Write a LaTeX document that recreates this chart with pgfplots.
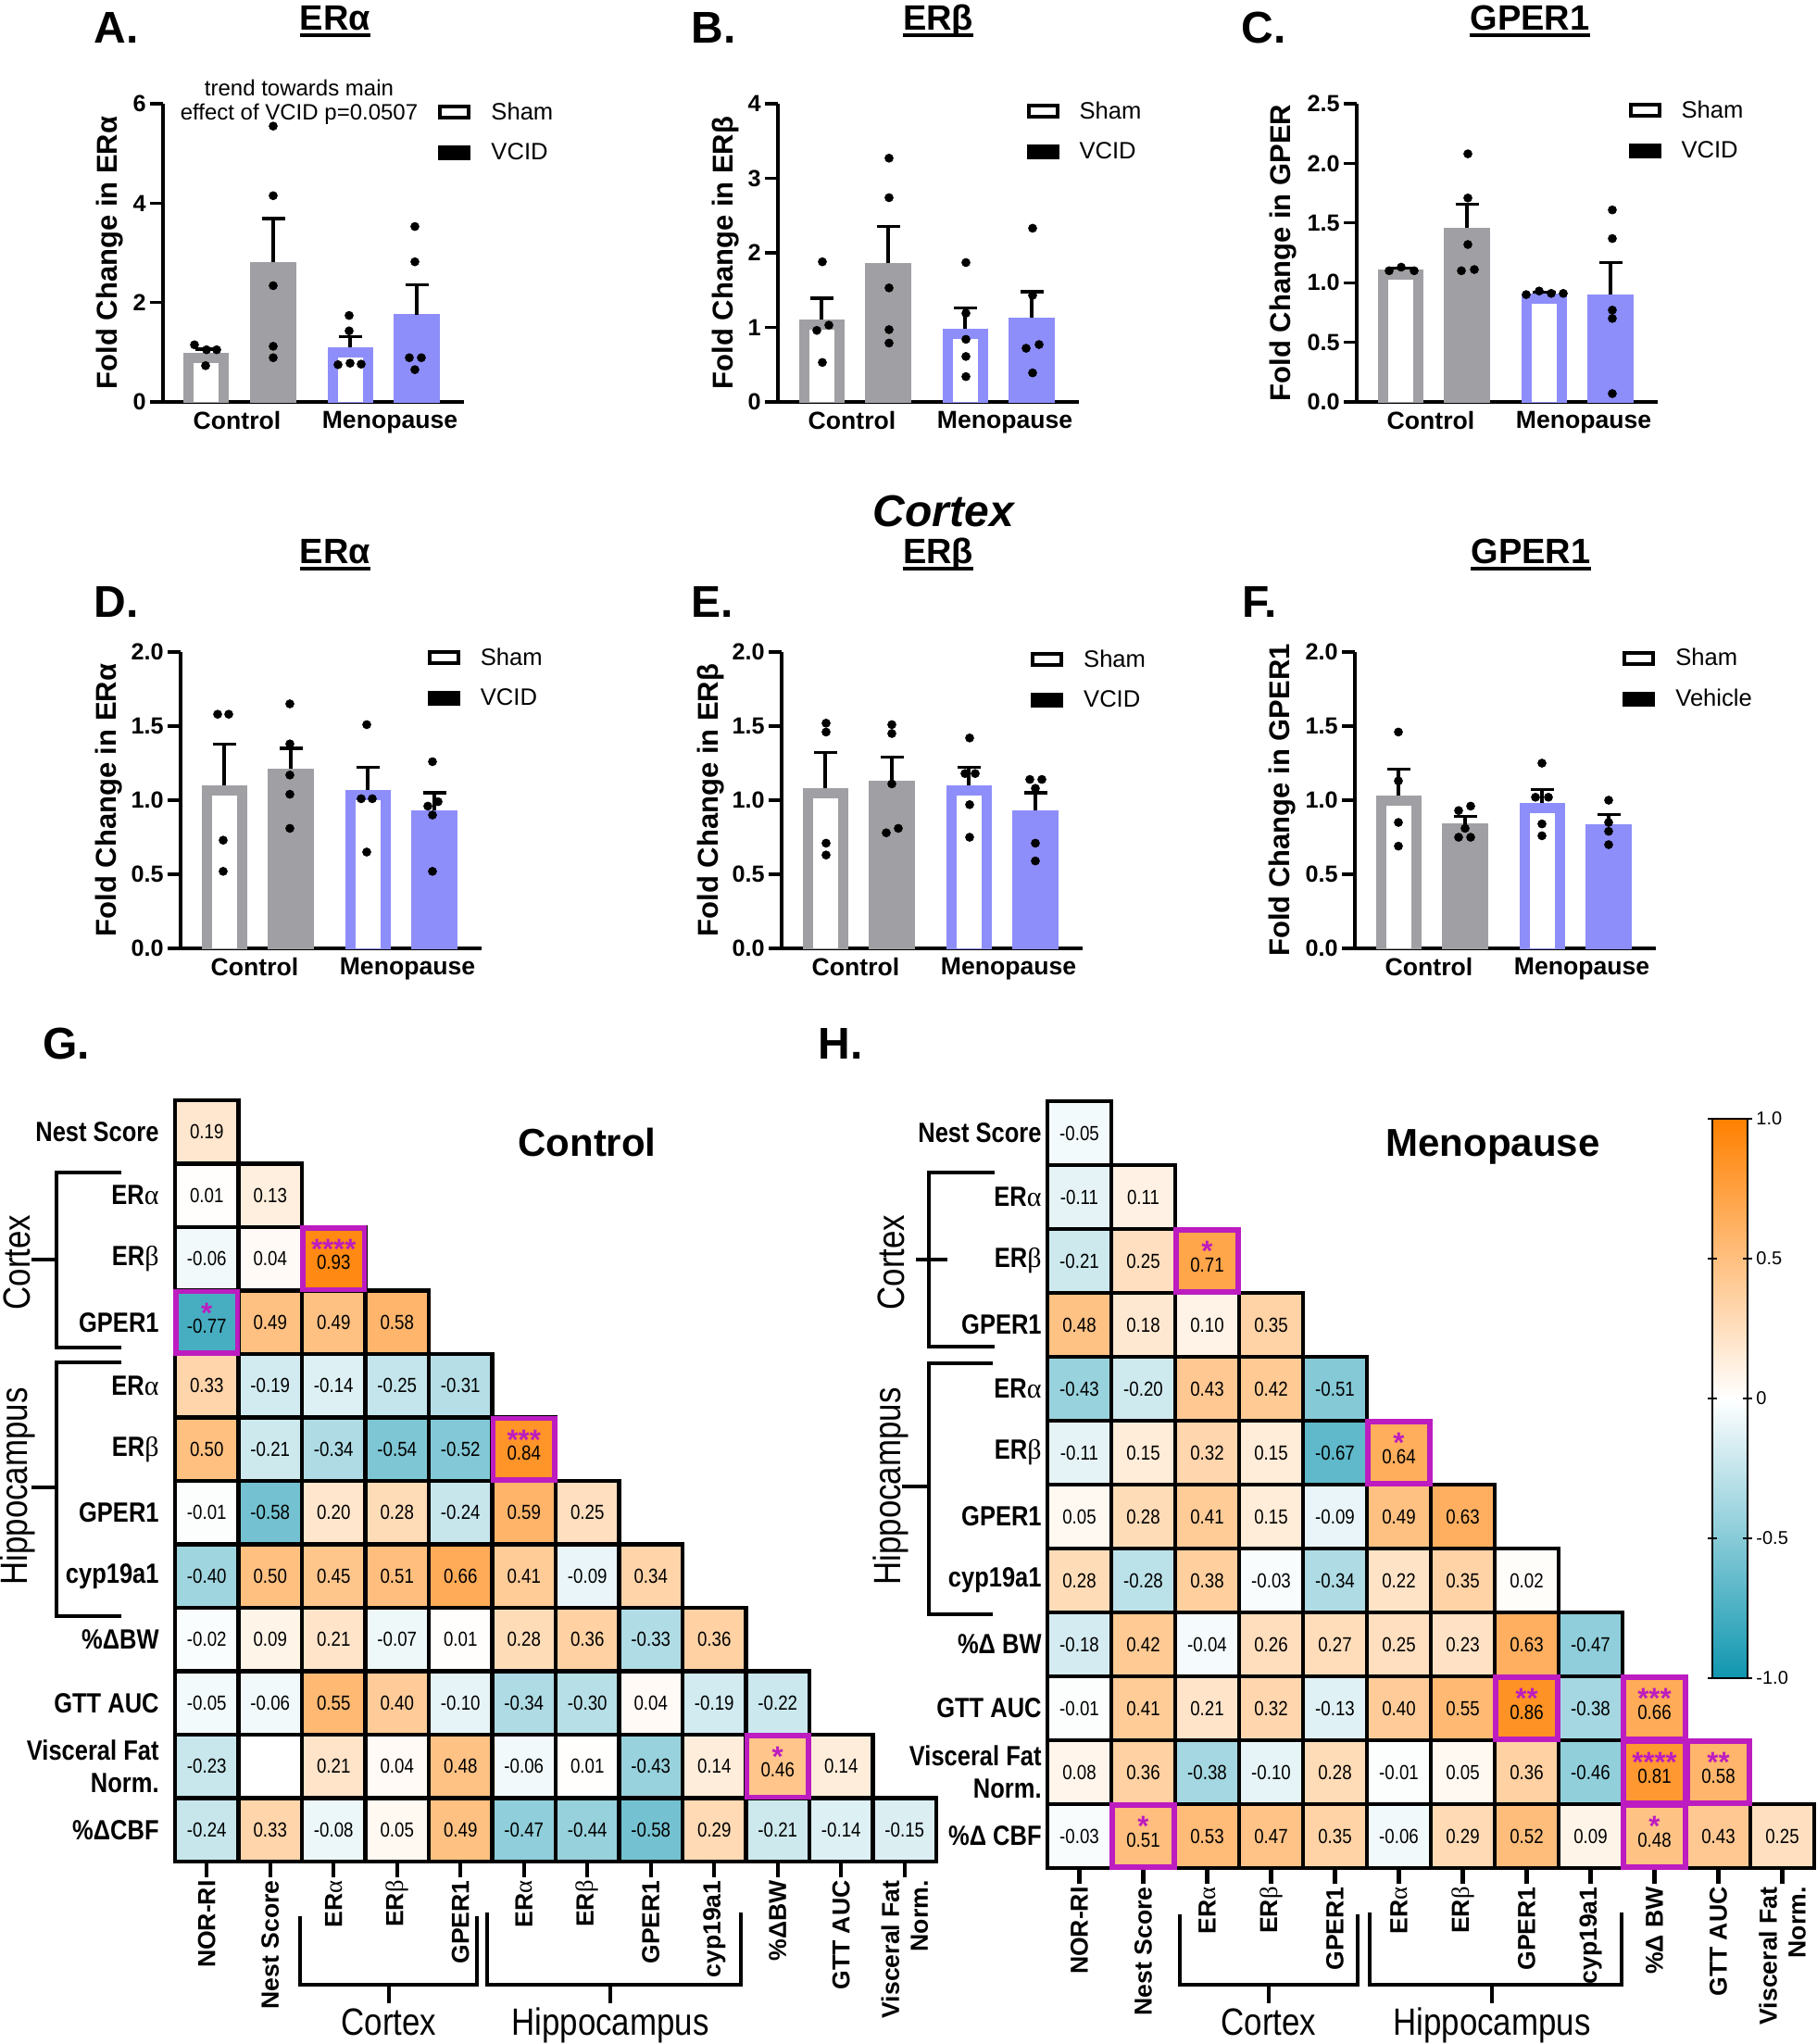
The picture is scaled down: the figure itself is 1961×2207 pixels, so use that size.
\documentclass[border=0pt]{standalone}
\usepackage{fontspec}
\setmainfont{Liberation Sans}
\newfontfamily\narrow[FakeStretch=0.85]{Liberation Sans}
\newfontfamily\greekfont{Liberation Serif}
\usepackage{pgfplots}
\usepackage{pgfplotstable}
\pgfplotsset{compat=1.18}

\definecolor{barGray}{RGB}{160,160,164}
\definecolor{barBlue}{RGB}{142,142,250}
\definecolor{sigMag}{RGB}{188,28,192}

\newcommand{\fs}[2]{\fontsize{#1}{#2}\selectfont}
\newcommand{\ga}{{\greekfont\mdseries α}}
\newcommand{\gb}{{\greekfont\mdseries β}}

% correlation matrices, x = column, y = 11 - row
\pgfplotstableread{
x y v
0 11 0.19
0 10 0.01
1 10 0.13
0 9 -0.06
1 9 0.04
1 8 0.49
2 8 0.49
3 8 0.58
0 7 0.33
1 7 -0.19
2 7 -0.14
3 7 -0.25
4 7 -0.31
0 6 0.50
1 6 -0.21
2 6 -0.34
3 6 -0.54
4 6 -0.52
0 5 -0.01
1 5 -0.58
2 5 0.20
3 5 0.28
4 5 -0.24
5 5 0.59
6 5 0.25
0 4 -0.40
1 4 0.50
2 4 0.45
3 4 0.51
4 4 0.66
5 4 0.41
6 4 -0.09
7 4 0.34
0 3 -0.02
1 3 0.09
2 3 0.21
3 3 -0.07
4 3 0.01
5 3 0.28
6 3 0.36
7 3 -0.33
8 3 0.36
0 2 -0.05
1 2 -0.06
2 2 0.55
3 2 0.40
4 2 -0.10
5 2 -0.34
6 2 -0.30
7 2 0.04
8 2 -0.19
9 2 -0.22
0 1 -0.23
2 1 0.21
3 1 0.04
4 1 0.48
5 1 -0.06
6 1 0.01
7 1 -0.43
8 1 0.14
10 1 0.14
0 0 -0.24
1 0 0.33
2 0 -0.08
3 0 0.05
4 0 0.49
5 0 -0.47
6 0 -0.44
7 0 -0.58
8 0 0.29
9 0 -0.21
10 0 -0.14
11 0 -0.15
}\Gdat
\pgfplotstableread{
x y v s
2 9 0.93 ****
0 8 -0.77 *
5 6 0.84 ***
9 1 0.46 *
}\Gsig
\pgfplotstableread{
x y v
1 1 0
}\Gblank

\pgfplotstableread{
x y v
0 11 -0.05
0 10 -0.11
1 10 0.11
0 9 -0.21
1 9 0.25
0 8 0.48
1 8 0.18
2 8 0.10
3 8 0.35
0 7 -0.43
1 7 -0.20
2 7 0.43
3 7 0.42
4 7 -0.51
0 6 -0.11
1 6 0.15
2 6 0.32
3 6 0.15
4 6 -0.67
0 5 0.05
1 5 0.28
2 5 0.41
3 5 0.15
4 5 -0.09
5 5 0.49
6 5 0.63
0 4 0.28
1 4 -0.28
2 4 0.38
3 4 -0.03
4 4 -0.34
5 4 0.22
6 4 0.35
7 4 0.02
0 3 -0.18
1 3 0.42
2 3 -0.04
3 3 0.26
4 3 0.27
5 3 0.25
6 3 0.23
7 3 0.63
8 3 -0.47
0 2 -0.01
1 2 0.41
2 2 0.21
3 2 0.32
4 2 -0.13
5 2 0.40
6 2 0.55
8 2 -0.38
0 1 0.08
1 1 0.36
2 1 -0.38
3 1 -0.10
4 1 0.28
5 1 -0.01
6 1 0.05
7 1 0.36
8 1 -0.46
0 0 -0.03
2 0 0.53
3 0 0.47
4 0 0.35
5 0 -0.06
6 0 0.29
7 0 0.52
8 0 0.09
10 0 0.43
11 0 0.25
}\Hdat
\pgfplotstableread{
x y v s
2 9 0.71 *
5 6 0.64 *
7 2 0.86 **
9 2 0.66 ***
9 1 0.81 ****
10 1 0.58 **
1 0 0.51 *
9 0 0.48 *
}\Hsig

\pgfplotsset{
  colormap={tealorange}{rgb255(0cm)=(16,150,176); rgb255(1cm)=(255,255,255); rgb255(2cm)=(255,128,0)},
  legend image code/.code={\draw[#1, line width=2pt] (0pt,-3pt) rectangle (15.5pt,3pt);},
  bpAxis/.style={
    scale only axis, width=162.5pt, anchor=south west,
    xmin=0, xmax=325, ymin=0,
    axis lines=left, axis line style={-, line width=1.65pt},
    xtick={80,245}, xticklabels={Control,Menopause},
    xtick style={draw=none}, ytick style={line width=1.65pt, black},
    tick align=outside, major tick length=7pt,
    xticklabel style={font=\bfseries\fs{13.3pt}{16pt}, anchor=north, inner sep=0pt, yshift=2pt},
    yticklabel style={font=\bfseries\fs{12.6pt}{15pt}, inner sep=2pt, /pgf/number format/assume math mode=true},
    ylabel style={font=\bfseries\fs{15.5pt}{18pt}, anchor=center},
    legend style={draw=none, fill=none, inner sep=0pt, anchor=north west, font=\fs{12.8pt}{15pt},
      row sep=7.2pt, /tikz/every odd column/.append style={column sep=9pt}},
    legend cell align=left,
  },
  bpOneDec/.style={yticklabel style={/pgf/number format/fixed, /pgf/number format/fixed zerofill, /pgf/number format/precision=1}},
  bpSham/.style={ybar, bar width=19pt, bar shift=0pt, fill=white, draw=#1, line width=5.5pt, yshift=-2.75pt},
  bpFull/.style={ybar, bar width=24.5pt, bar shift=0pt, fill=#1, draw=#1, line width=0.2pt},
  bpErr/.style={mark=none, draw=none,
    error bars/y dir=plus, error bars/y explicit,
    error bars/error bar style={draw=black, line width=1.65pt},
    error bars/error mark options={draw=black, line width=1.65pt, mark size=6.25pt, rotate=90}},
  bpDots/.style={only marks, mark=*, mark size=2.2pt, black},
  hmAxis/.style={
    scale only axis, anchor=center,
    xmin=-0.5, xmax=11.5, ymin=-0.5, ymax=11.5,
    axis line style={draw=none},
    xtick={0,...,11}, ytick={0,...,11},
    tick pos=left, tick align=outside, major tick length=8.5pt,
    xtick style={line width=2.2pt, black}, ytick style={draw=none},
    xticklabel style={rotate=90, anchor=east, align=right, font=\bfseries\fs{13.3pt}{15.5pt}, inner sep=1.5pt},
    yticklabel style={anchor=east, align=right, font=\bfseries\narrow\fs{15pt}{17.5pt}, inner sep=0pt},
    point meta min=-1, point meta max=1,
    clip=false,
  },
  hmCells/.style={scatter, only marks, mark=square*, mark size=#1, point meta=explicit,
    scatter/use mapped color={draw=black, fill=mapped color}, mark options={line width=2.2pt}},
  hmNums/.style={only marks, mark=none, point meta=explicit symbolic, nodes near coords,
    every node near coord/.append style={anchor=center, font=\narrow\fs{11pt}{12pt}, text=black, inner sep=0pt}},
  hmStars/.style={only marks, mark=none, point meta=explicit symbolic, nodes near coords,
    every node near coord/.append style={anchor=center, font=\bfseries\fs{15.5pt}{15.5pt}, text=sigMag, inner sep=0pt, yshift=5.1pt}},
  hmFrame/.style={only marks, mark=square, mark size=#1, mark options={draw=sigMag, line width=2.6pt}},
}

\begin{document}
\begin{tikzpicture}[x=0.5pt,y=-0.5pt]
\useasboundingbox (0,0) rectangle (1961,2207);

% ---------- A ----------
\begin{axis}[bpAxis, at={(88pt,-217pt)}, height=161pt,
  ymax=6, ytick={0,2,4,6}, ylabel={Fold Change in ERα},
  ylabel style={at={(axis description cs:-0.178,0.5)}},
  legend style={at={(0.914,1.018)}}]
\addlegendimage{draw=black, fill=white}
\addlegendimage{draw=black, fill=black}
\addplot[bpSham=barGray] coordinates {(47,0.98)};
\addplot[bpFull=barGray] coordinates {(119,2.81)};
\addplot[bpSham=barBlue] coordinates {(202,1.10)};
\addplot[bpFull=barBlue] coordinates {(274,1.76)};
\addplot[bpErr] coordinates {(47,0.98) +- (0,0.08) (119,2.81) +- (0,0.88) (202,1.10) +- (0,0.22) (274,1.76) +- (0,0.60)};
\addplot[bpDots] coordinates {
  (34,1.15) (47,1.05) (58,1.05) (46,0.73)
  (119,5.55) (119,4.15) (119,2.34) (119,1.12) (119,0.89)
  (201,1.74) (201,1.43) (189,0.75) (202,0.78) (214,0.76)
  (272,3.53) (272,2.82) (266,0.89) (279,0.89) (272,0.65)};
\legend{Sham,VCID}
\end{axis}

% ---------- B ----------
\begin{axis}[bpAxis, at={(420pt,-217pt)}, height=161pt,
  ymax=4, ytick={0,1,2,3,4}, ylabel={Fold Change in ERβ},
  ylabel style={at={(axis description cs:-0.175,0.5)}},
  legend style={at={(0.825,1.021)}}]
\addlegendimage{draw=black, fill=white}
\addlegendimage{draw=black, fill=black}
\addplot[bpSham=barGray] coordinates {(47,1.10)};
\addplot[bpFull=barGray] coordinates {(119,1.86)};
\addplot[bpSham=barBlue] coordinates {(202,0.98)};
\addplot[bpFull=barBlue] coordinates {(274,1.13)};
\addplot[bpErr] coordinates {(47,1.10) +- (0,0.29) (119,1.86) +- (0,0.49) (202,0.98) +- (0,0.28) (274,1.13) +- (0,0.35)};
\addplot[bpDots] coordinates {
  (48,1.88) (55,1.03) (42,0.96) (48,0.53)
  (120,3.27) (120,2.74) (120,1.53) (120,0.97) (120,0.79)
  (203,1.87) (203,1.19) (203,0.84) (203,0.61) (203,0.34)
  (275,2.33) (275,1.43) (282,0.77) (268,0.72) (275,0.39)};
\legend{Sham,VCID}
\end{axis}

% ---------- C ----------
\begin{axis}[bpAxis, bpOneDec, at={(732.5pt,-217pt)}, height=161pt,
  ymax=2.5, ytick={0,0.5,1,1.5,2,2.5}, ylabel={Fold Change in GPER},
  ylabel style={at={(axis description cs:-0.246,0.5)}},
  legend style={at={(0.902,1.024)}}]
\addlegendimage{draw=black, fill=white}
\addlegendimage{draw=black, fill=black}
\addplot[bpSham=barGray] coordinates {(47,1.11)};
\addplot[bpFull=barGray] coordinates {(119,1.46)};
\addplot[bpSham=barBlue] coordinates {(202,0.91)};
\addplot[bpFull=barBlue] coordinates {(274,0.90)};
\addplot[bpErr] coordinates {(47,1.11) +- (0,0.01) (119,1.46) +- (0,0.20) (202,0.91) +- (0,0.01) (274,0.90) +- (0,0.27)};
\addplot[bpDots] coordinates {
  (35,1.10) (48,1.13) (62,1.10)
  (120,2.08) (120,1.71) (120,1.32) (113,1.10) (127,1.11)
  (183,0.90) (197,0.93) (210,0.91) (223,0.91)
  (276,1.61) (276,1.37) (276,0.77) (276,0.70) (276,0.07)};
\legend{Sham,VCID}
\end{axis}

% ---------- D ----------
\begin{axis}[bpAxis, bpOneDec, at={(97.5pt,-512pt)}, height=160pt,
  ymax=2, ytick={0,0.5,1,1.5,2}, ylabel={Fold Change in ERα},
  ylabel style={at={(axis description cs:-0.238,0.5)}},
  legend style={at={(0.820,1.028)}}]
\addlegendimage{draw=black, fill=white}
\addlegendimage{draw=black, fill=black}
\addplot[bpSham=barGray] coordinates {(47,1.10)};
\addplot[bpFull=barGray] coordinates {(119,1.21)};
\addplot[bpSham=barBlue] coordinates {(202,1.07)};
\addplot[bpFull=barBlue] coordinates {(274,0.93)};
\addplot[bpErr] coordinates {(47,1.10) +- (0,0.28) (119,1.21) +- (0,0.14) (202,1.07) +- (0,0.15) (274,0.93) +- (0,0.12)};
\addplot[bpDots] coordinates {
  (40,1.58) (52,1.58) (46,0.73) (46,0.52)
  (118,1.65) (118,1.38) (118,1.17) (118,1.04) (118,0.81)
  (201,1.51) (195,1.01) (207,1.01) (201,0.65)
  (272,1.26) (278,0.99) (267,0.96) (272,0.90) (272,0.52)};
\legend{Sham,VCID}
\end{axis}

% ---------- E ----------
\begin{axis}[bpAxis, bpOneDec, at={(422pt,-512pt)}, height=160pt,
  ymax=2, ytick={0,0.5,1,1.5,2}, ylabel={Fold Change in ERβ},
  ylabel style={at={(axis description cs:-0.235,0.5)}},
  legend style={at={(0.827,1.021)}}]
\addlegendimage{draw=black, fill=white}
\addlegendimage{draw=black, fill=black}
\addplot[bpSham=barGray] coordinates {(47,1.08)};
\addplot[bpFull=barGray] coordinates {(119,1.13)};
\addplot[bpSham=barBlue] coordinates {(202,1.10)};
\addplot[bpFull=barBlue] coordinates {(274,0.93)};
\addplot[bpErr] coordinates {(47,1.08) +- (0,0.24) (119,1.13) +- (0,0.16) (202,1.10) +- (0,0.12) (274,0.93) +- (0,0.12)};
\addplot[bpDots] coordinates {
  (48,1.52) (48,1.46) (48,0.71) (48,0.63)
  (119,1.51) (119,1.45) (119,1.11) (126,0.81) (113,0.78)
  (203,1.42) (198,1.18) (209,1.18) (203,0.97) (203,0.75)
  (268,1.14) (281,1.14) (274,1.08) (274,0.71) (274,0.59)};
\legend{Sham,VCID}
\end{axis}

% ---------- F ----------
\begin{axis}[bpAxis, bpOneDec, at={(731.5pt,-512pt)}, height=160pt,
  ymax=2, ytick={0,0.5,1,1.5,2}, ylabel={Fold Change in GPER1},
  ylabel style={at={(axis description cs:-0.241,0.5)}},
  legend style={at={(0.889,1.025)}}]
\addlegendimage{draw=black, fill=white}
\addlegendimage{draw=black, fill=black}
\addplot[bpSham=barGray] coordinates {(47,1.03)};
\addplot[bpFull=barGray] coordinates {(119,0.84)};
\addplot[bpSham=barBlue] coordinates {(202,0.98)};
\addplot[bpFull=barBlue] coordinates {(274,0.835)};
\addplot[bpErr] coordinates {(47,1.03) +- (0,0.18) (119,0.84) +- (0,0.05) (202,0.98) +- (0,0.09) (274,0.835) +- (0,0.07)};
\addplot[bpDots] coordinates {
  (47,1.46) (47,1.13) (47,0.85) (47,0.69)
  (125,0.96) (112,0.93) (119,0.81) (112,0.75) (125,0.75)
  (202,1.25) (195,1.02) (209,1.02) (202,0.84) (202,0.76)
  (274,1.00) (274,0.85) (274,0.79) (274,0.70)};
\legend{Sham,Vehicle}
\end{axis}

% ---------- G ----------
\begin{axis}[hmAxis, at={(300pt,-799.5pt)}, width=411pt, height=411pt,
  xticklabels={NOR-RI,Nest Score,ER\ga,ER\gb,GPER1,ER\ga,ER\gb,GPER1,cyp19a1,\%ΔBW,GTT AUC,{Visceral Fat\\Norm.}},
  yticklabels={\%ΔCBF,{Visceral Fat\\Norm.},GTT AUC,\%ΔBW,cyp19a1,GPER1,ER\gb,ER\ga,GPER1,ER\gb,ER\ga,Nest Score}]
\addplot[hmCells=17.125pt] table[x=x,y=y,meta=v] {\Gdat};
\addplot[hmCells=17.125pt] table[x=x,y=y,meta=v] {\Gsig};
\addplot[hmCells=17.125pt] table[x=x,y=y,meta=v] {\Gblank};
\addplot[hmFrame=16.6pt] table[x=x,y=y] {\Gsig};
\addplot[hmNums] table[x=x,y=y,meta=v] {\Gdat};
\addplot[hmNums, every node near coord/.append style={yshift=-2pt}] table[x=x,y=y,meta=v] {\Gsig};
\addplot[hmStars] table[x=x,y=y,meta=s] {\Gsig};
\end{axis}

% ---------- H ----------
\begin{axis}[hmAxis, at={(772.5pt,-801.5pt)}, width=414pt, height=414pt,
  yticklabel style={xshift=5.5pt},
  xticklabels={NOR-RI,Nest Score,ER\ga,ER\gb,GPER1,ER\ga,ER\gb,GPER1,cyp19a1,\%Δ BW,GTT AUC,{Visceral Fat\\Norm.}},
  yticklabels={\%Δ CBF,{Visceral Fat\\Norm.},GTT AUC,\%Δ BW,cyp19a1,GPER1,ER\gb,ER\ga,GPER1,ER\gb,ER\ga,Nest Score}]
\addplot[hmCells=17.25pt] table[x=x,y=y,meta=v] {\Hdat};
\addplot[hmCells=17.25pt] table[x=x,y=y,meta=v] {\Hsig};
\addplot[hmFrame=16.75pt] table[x=x,y=y] {\Hsig};
\addplot[hmNums] table[x=x,y=y,meta=v] {\Hdat};
\addplot[hmNums, every node near coord/.append style={yshift=-2pt}] table[x=x,y=y,meta=v] {\Hsig};
\addplot[hmStars] table[x=x,y=y,meta=s] {\Hsig};
\end{axis}

% ---------- colour scale ----------
\begin{axis}[at={(924.5pt,-906pt)}, anchor=south west, scale only axis, width=19pt, height=302pt,
  xmin=0, xmax=1, ymin=-1, ymax=1, axis on top,
  xtick=\empty, ytick={-1,-0.5,0,0.5,1}, yticklabels={-1.0,-0.5,0,0.5,1.0},
  ytick pos=both, yticklabel pos=right, tick align=center, major tick length=5pt,
  ytick style={line width=1.2pt, black}, axis line style={line width=1.2pt},
  yticklabel style={font=\fs{10pt}{12pt}, inner sep=2pt},
  point meta min=-1, point meta max=1]
\addplot[surf, shader=interp, point meta=y] coordinates {
(0,-1) (1,-1)

(0,0) (1,0)

(0,1) (1,1)
};
\end{axis}

% ---------- letters, titles ----------
\begin{scope}[every node/.style={anchor=base west, inner sep=0pt, font=\bfseries\fs{24pt}{28pt}}]
\node at (101,46) {A.};
\node at (746,46) {B.};
\node at (1340,46) {C.};
\node at (101,666) {D.};
\node at (746,666) {E.};
\node at (1341,666) {F.};
\node at (46,1143) {G.};
\node at (883,1143) {H.};
\end{scope}

\begin{scope}[every node/.style={anchor=base, inner sep=0pt, font=\bfseries\fs{19pt}{22pt}}]
\node (tA) at (362,32) {ERα};
\node (tB) at (1013,32) {ERβ};
\node (tC) at (1652,32) {GPER1};
\node (tD) at (362,608) {ERα};
\node (tE) at (1013,608) {ERβ};
\node (tF) at (1653,608) {GPER1};
\end{scope}
\foreach \t in {tA,tB,tC,tD,tE,tF}
  \draw[line width=2pt] ([yshift=-3.2pt]\t.base west) -- ([yshift=-3.2pt]\t.base east);

\node[anchor=base, font=\bfseries\itshape\fs{24pt}{28pt}] at (1019,568) {Cortex};
\node[align=center, font=\fs{12pt}{13pt}] at (323,110) {trend towards main\\effect of VCID p=0.0507};

\node[anchor=base, font=\bfseries\fs{21pt}{24pt}] at (634,1248) {Control};
\node[anchor=base, font=\bfseries\fs{21pt}{24pt}] at (1612,1248) {Menopause};

% ---------- group brackets ----------
\begin{scope}[line width=2.2pt]
\draw (131,1266) -- (61,1266) -- (61,1455) -- (131,1455);
\draw (34,1360) -- (61,1360);
\draw (131,1471) -- (61,1471) -- (61,1745) -- (131,1745);
\draw (34,1606) -- (61,1606);
\draw (1074,1266) -- (1003,1266) -- (1003,1454) -- (1074,1454);
\draw (989,1360) -- (1023,1360);
\draw (1072,1472) -- (1003,1472) -- (1003,1743) -- (1072,1743);
\draw (974,1605) -- (1003,1605);
\draw (324,2069) -- (324,2143) -- (515,2143) -- (515,2069);
\draw (420,2143) -- (420,2163);
\draw (526,2065) -- (526,2143) -- (800,2143) -- (800,2065);
\draw (659,2143) -- (659,2163);
\draw (1274,2067) -- (1274,2143) -- (1466,2143) -- (1466,2067);
\draw (1370,2143) -- (1370,2163);
\draw (1479,2065) -- (1479,2143) -- (1751,2143) -- (1751,2065);
\draw (1611,2143) -- (1611,2163);
\end{scope}

\begin{scope}[every node/.style={font=\narrow\fs{20.5pt}{24pt}, inner sep=0pt}]
\node[rotate=90] at (18,1363) {Cortex};
\node[rotate=90] at (19,1605) {Hippocampus};
\node[rotate=90] at (962,1363) {Cortex};
\node[rotate=90] at (962,1605) {Hippocampus};
\node[anchor=base] at (420,2197) {Cortex};
\node[anchor=base] at (659,2197) {Hippocampus};
\node[anchor=base] at (1370,2197) {Cortex};
\node[anchor=base] at (1611,2197) {Hippocampus};
\end{scope}

\end{tikzpicture}
\end{document}
